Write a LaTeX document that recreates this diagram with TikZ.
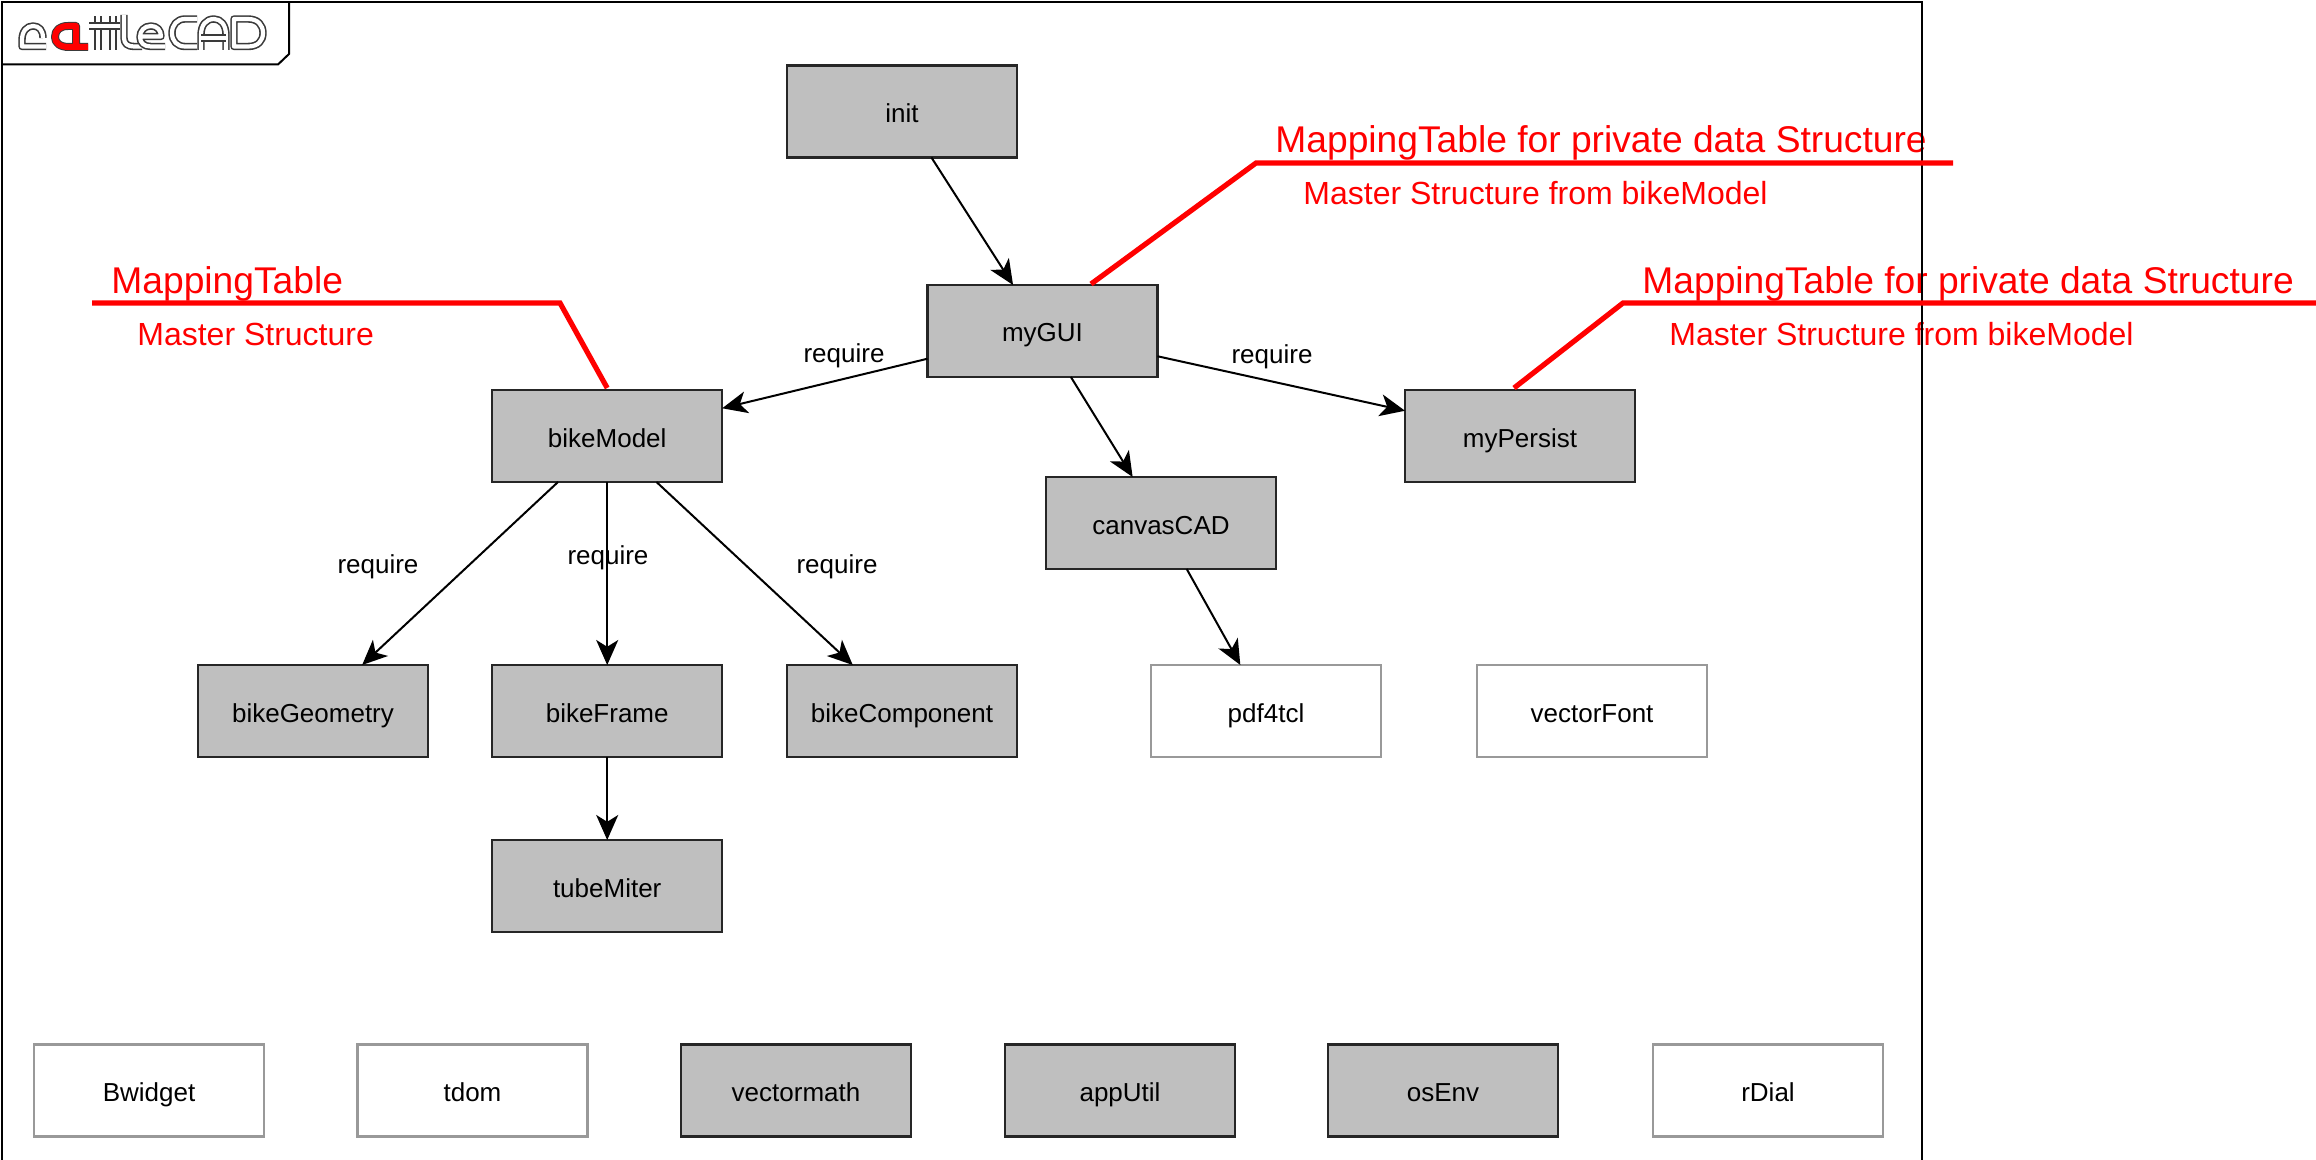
\documentclass[tikz,border=0pt]{standalone}
\usepackage{fontspec}
\setmainfont{Liberation Sans}
\usetikzlibrary{arrows.meta}
\definecolor{boxgray}{HTML}{BFBFBF}
\definecolor{boxline}{HTML}{262626}
\definecolor{extline}{HTML}{999999}
\definecolor{logoline}{HTML}{3A3A3A}
\tikzset{
  modbox/.style={draw=boxline,fill=boxgray,line width=1.1pt,minimum width=115pt,minimum height=46pt,inner sep=0pt,outer sep=0pt,text height=12.5pt,text depth=1.5pt,font=\fontsize{13}{15}\selectfont},
  extbox/.style={modbox,draw=extline,fill=white},
  dep/.style={draw=black,line width=1pt,-{Stealth[length=12.5pt,width=11pt,inset=3.4pt]}},
  edgelabel/.style={inner sep=0pt,font=\fontsize{13}{15}\selectfont},
  redbig/.style={text=red,inner sep=0pt,anchor=base west,font=\fontsize{18.6}{21}\selectfont},
  redsmall/.style={text=red,inner sep=0pt,anchor=base west,font=\fontsize{16}{19}\selectfont},
  redline/.style={draw=red,line width=2.6pt},
  framel/.style={draw=black,line width=1pt},
  logostroke/.style={draw=logoline,line width=0.8pt,double=white,double distance=2.1pt,line cap=butt,line join=round},
  logored/.style={draw=logoline,line width=0.5pt,double=red,double distance=3pt,line join=round}
}
\begin{document}
\begin{tikzpicture}[x=0.5pt,y=-0.5pt]
\useasboundingbox (0,0) rectangle (2316,1160);
\fill[white] (0,0) rectangle (2316,1160);
% nodes
\node[modbox] (init) at (902,111.5) {init};
\node[modbox] (myGUI) at (1042.5,331) {myGUI};
\node[modbox] (bikeModel) at (607.2,436) {bikeModel};
\node[modbox] (myPersist) at (1520,436) {myPersist};
\node[modbox] (canvasCAD) at (1161,523) {canvasCAD};
\node[modbox] (bikeGeometry) at (313,711) {bikeGeometry};
\node[modbox] (bikeFrame) at (607.2,711) {bikeFrame};
\node[modbox] (bikeComponent) at (902,711) {bikeComponent};
\node[extbox] (pdf4tcl) at (1266,711) {pdf4tcl};
\node[extbox] (vectorFont) at (1592,711) {vectorFont};
\node[modbox] (tubeMiter) at (607.2,886) {tubeMiter};
\node[extbox] (Bwidget) at (149,1090.5) {Bwidget};
\node[extbox] (tdom) at (472.5,1090.5) {tdom};
\node[modbox] (vectormath) at (796,1090.5) {vectormath};
\node[modbox] (appUtil) at (1120,1090.5) {appUtil};
\node[modbox] (osEnv) at (1443,1090.5) {osEnv};
\node[extbox] (rDial) at (1768,1090.5) {rDial};
% connectors
\draw[dep] (init) -- (myGUI);
\draw[dep] (myGUI) -- (bikeModel);
\draw[dep] (myGUI) -- (myPersist);
\draw[dep] (myGUI) -- (canvasCAD);
\draw[dep] (canvasCAD) -- (pdf4tcl);
\draw[dep] (bikeModel) -- (bikeGeometry);
\draw[dep] (bikeModel) -- (bikeFrame);
\draw[dep] (bikeModel) -- (bikeComponent);
\draw[dep] (bikeFrame) -- (tubeMiter);
% edge labels
\node[edgelabel] (lreqa) at (844,356) {require};
\node[edgelabel] (lreqb) at (1272,357) {require};
\node[edgelabel] (lreqc) at (378,567) {require};
\node[edgelabel] (lreqd) at (608,558) {require};
\node[edgelabel] (lreqe) at (837,567) {require};
% red texts
\node[redbig] (ta) at (1275,152.5) {MappingTable for private data Structure};
\node[redsmall] (tb) at (1303,205) {Master Structure from bikeModel};
\node[redbig] (tc) at (1642,293.5) {MappingTable for private data Structure};
\node[redsmall] (td) at (1669,345) {Master Structure from bikeModel};
\node[redbig] (te) at (111,293.5) {MappingTable};
\node[redsmall] (tf) at (137,345) {Master Structure};
% frame
\coordinate (frameBL) at (2,1160);
\coordinate (frameTL) at (2,2);
\coordinate (frameTR) at (1922,2);
\coordinate (frameBR) at (1922,1160);
\draw[framel] (frameBL) -- (frameTL) -- (frameTR) -- (frameBR);
\coordinate (tabA) at (2,64.5);
\coordinate (tabB) at (278,64.5);
\coordinate (tabC) at (289,54);
\coordinate (tabD) at (289,2);
\draw[framel] (tabA) -- (tabB) -- (tabC) -- (tabD);
% red leaders
\coordinate (ra1) at (1256,163);
\coordinate (ra2) at (1953,163);
\draw[redline] ([xshift=24.25pt,yshift=0.5pt]myGUI.north) -- (ra1) -- (ra2);
\coordinate (rb1) at (1623,303);
\coordinate (rb2) at (2316,303);
\draw[redline] ([xshift=-3pt,yshift=1pt]myPersist.north) -- (rb1) -- (rb2);
\coordinate (rc1) at (560,303);
\coordinate (rc2) at (92,303);
\draw[redline] ([yshift=1pt]bikeModel.north) -- (rc1) -- (rc2);
% logo
\draw[logostroke] (46,46.5) -- (22,46.5) -- (22,40) .. controls (22,31) and (27,26) .. (33,26) .. controls (39,26) and (43,30) .. (43,38);
\draw[logored] (88,47) -- (69,47) .. controls (60,47) and (55,43) .. (55,37) .. controls (55,30) and (60,26) .. (68,26) -- (76,26) -- (76,46);
\draw[logostroke] (98,50) -- (98,16);
\draw[logostroke] (113,50) -- (113,16);
\draw[logostroke] (89,26) -- (120,26);
\draw[logostroke] (124,15) -- (124,38) .. controls (124,44) and (128,46.5) .. (134,46.5) -- (142,46.5);
\draw[logostroke] (140,36.5) -- (161,36.5) .. controls (161,30) and (157,26) .. (151,26) .. controls (144,26) and (140,31) .. (140,37) .. controls (140,43) and (144,46.5) .. (151,46.5) -- (165,46.5);
\draw[logostroke] (197,19) -- (185,19) .. controls (177,19) and (172,25) .. (172,33) .. controls (172,41) and (177,46.5) .. (185,46.5) -- (197,46.5);
\draw[logostroke] (201,50) -- (201,35) .. controls (201,25) and (206,19) .. (214,19) .. controls (221,19) and (226,25) .. (226,35) -- (226,50);
\draw[logostroke] (201,38) -- (226,38);
\draw[logostroke] (234,19) -- (248,19) .. controls (258,19) and (263,25) .. (263,33) .. controls (263,41) and (258,46.5) .. (248,46.5) -- (234,46.5) -- cycle;
\end{tikzpicture}
\end{document}
